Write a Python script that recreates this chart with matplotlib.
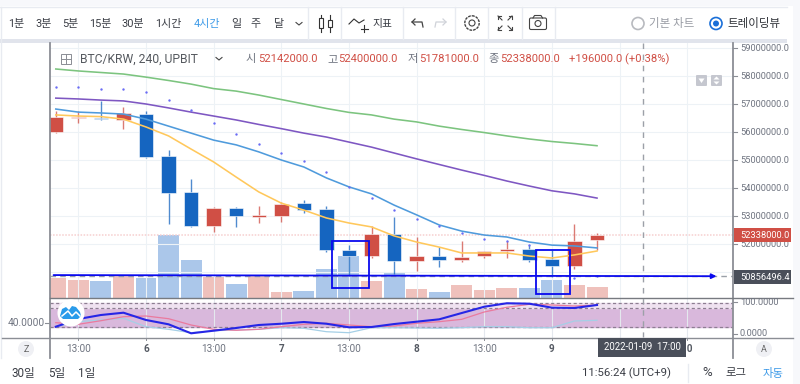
import numpy as np
import matplotlib
matplotlib.use("Agg")
import matplotlib.pyplot as plt
from matplotlib.patches import Rectangle, Circle, FancyBboxPatch, Polygon

plt.rcParams['font.family'] = ['Roboto', 'Noto Sans CJK KR', 'DejaVu Sans']

# ---------- data (prices in millions KRW) ----------
opens  = [56.00, 56.50, 56.50, 56.43, 56.64, 55.15, 53.86, 52.64, 53.29, 52.98, 53.01, 53.46, 53.25, 51.79, 51.57, 52.36, 51.39, 51.57, 51.43, 51.57, 51.75, 51.82, 51.46, 51.21, 52.142]
closes = [56.54, 56.52, 56.45, 56.68, 55.11, 53.83, 52.64, 53.29, 53.00, 53.04, 53.43, 53.23, 51.79, 51.57, 52.36, 51.39, 51.57, 51.43, 51.54, 51.75, 51.82, 51.43, 51.21, 52.11, 52.338]
highs  = [56.75, 56.75, 57.11, 56.89, 56.75, 55.36, 54.32, 53.32, 53.32, 53.36, 53.50, 53.57, 53.36, 51.96, 52.64, 52.96, 52.25, 51.89, 52.11, 51.75, 52.11, 51.96, 51.79, 52.71, 52.400]
lows   = [55.95, 56.32, 56.43, 56.11, 55.07, 52.71, 52.62, 52.43, 52.61, 52.75, 52.79, 53.11, 51.71, 50.86, 51.50, 50.93, 51.04, 51.18, 51.36, 51.50, 51.50, 51.36, 50.82, 51.11, 51.781]
volumes = [20.3, 18, 17, 22, 20.3, 63, 38, 21.3, 14.3, 22, 6, 7, 29.3, 42, 17, 25.3, 9, 6, 13.3, 8, 10, 10, 18, 13, 11]

ma_green  = [58.25, 58.18, 58.125, 58.07, 57.96, 57.84, 57.71, 57.55, 57.46, 57.32, 57.16, 57.0, 56.84, 56.70, 56.61, 56.46, 56.36, 56.21, 56.09, 55.98, 55.86, 55.75, 55.66, 55.59, 55.51]
ma_purple = [57.21, 57.18, 57.14, 57.11, 57.0, 56.86, 56.71, 56.57, 56.43, 56.27, 56.12, 55.96, 55.82, 55.64, 55.46, 55.25, 55.04, 54.84, 54.64, 54.45, 54.25, 54.07, 53.90, 53.79, 53.64]
ma_blue   = [56.82, 56.71, 56.68, 56.64, 56.46, 56.21, 55.96, 55.71, 55.54, 55.29, 55.0, 54.75, 54.36, 54.04, 53.79, 53.39, 53.04, 52.68, 52.46, 52.32, 52.25, 52.07, 51.96, 51.93, 51.86]
ma_yellow = [56.61, 56.57, 56.55, 56.46, 56.18, 55.86, 55.39, 54.93, 54.39, 53.86, 53.46, 53.21, 52.93, 52.75, 52.61, 52.29, 52.07, 51.89, 51.68, 51.68, 51.68, 51.57, 51.5, 51.61, 51.75]
sar = [57.61, 57.59, 57.54, 57.52, 57.43, 57.14, 56.79, 56.32, 55.93, 55.57, 55.26, 54.96, 54.57, 54.05, 53.64, 53.23, 52.89, 52.64, 52.39, 52.18, 52.11, 51.96, np.nan, 50.80, 50.86]

osc_k = [21.6, 46, 58.7, 66, 42.9, 29.2, 0.6, 8.9, 17.5, 27, 31, 36.5, 31, 19.7, 20.6, 30, 37.5, 45, 65, 85, 96, 94.6, 82, 81, 90.5]
osc_d = [34.3, 29.2, 40.6, 53.3, 55.6, 47, 27, 13.3, 10.2, 13.3, 21.6, 29.2, 32.4, 27, 21.6, 23.8, 32.4, 37.5, 45, 68.3, 83.2, 92.7, 90.5, 87.3, 90.5]
osc_r = [21.6, 37.5, 42.9, 48.3, 21.6, 13.3, 2.5, 8.9, 11.1, 13.3, 18.4, 16.5, 5.7, 2.5, 18.4, 18.4, 17.5, 16.5, 18.4, 21.6, 21.6, 18.4, 18.4, 39.7, 41.9]

price_ticks = list(range(52, 60))
time_ticks = [1, 4, 7, 10, 13, 16, 19, 22, 25, 28]
time_labels = ['13:00', '6', '13:00', '7', '13:00', '8', '13:00', '9', '13:00', '10']
intervals = ['1분', '3분', '5분', '15분', '30분', '1시간', '4시간', '일', '주', '달']
interval_x = [16.5, 43.5, 70.5, 100, 133, 168.5, 206.5, 236, 256, 278]
ranges = ['30일', '5일', '1일']
range_x = [23.5, 56.5, 86.5]
hline_start, hline_end = 50.90, 50.80

RED, BLUE = '#d04f45', '#1565c0'
RED_V, BLUE_V = '#efc1bc', '#abc7ea'
GRID = '#edf2f6'
AX = '#8b8e95'
TXT = '#6f7480'
W, H = 800, 384
FS = 6.7

fig = plt.figure(figsize=(8, 3.84), dpi=100, facecolor='white')

def axpx(x0, y0, x1, y1, **kw):
    return fig.add_axes([x0 / W, 1 - y1 / H, (x1 - x0) / W, (y1 - y0) / H], **kw)

xlim = (-0.257, 30.03)
n = np.arange(len(opens))

# --------- price pane ----------
ax = axpx(50, 43, 733, 298)
ax.set_xlim(*xlim)
ax.set_ylim(59 - 250 / 28, 59 + 5 / 28)
for s in ax.spines.values():
    s.set_visible(False)
ax.set_xticks(time_ticks)
ax.set_yticks(list(range(51, 60)))
ax.tick_params(length=0, labelleft=False, labelbottom=False)
ax.grid(True, color=GRID, lw=0.8)
ax.set_axisbelow(True)
ax.patch.set_alpha(0)

# volume on its own scale inside the price pane
axv = ax.twinx()
axv.set_ylim(0, 255)
axv.axis('off')
vcolors = [RED_V if c >= o else BLUE_V for o, c in zip(opens, closes)]
axv.bar(n, volumes, width=0.93, color=vcolors, zorder=1)
ax.set_zorder(axv.get_zorder() + 1)

ax.axhline(closes[-1], color='#f6cfcf', lw=1.1, ls=(0, (1, 1)), zorder=1)
ax.plot([xlim[0], xlim[1]], [50.856, 50.856], color='#9aa0a8', lw=1, ls=(0, (4, 3)), zorder=1)

for i in n:
    col = RED if closes[i] >= opens[i] else BLUE
    ax.vlines(i, lows[i], highs[i], color=col, lw=1, alpha=0.75, zorder=3)
    b, t = sorted((opens[i], closes[i]))
    ax.add_patch(Rectangle((i - 0.32, b), 0.64, max(t - b, 0.05), fc=col, ec='white', lw=0.4, zorder=4))

ax.plot(n, ma_green, color='#7cc47f', lw=1.15, zorder=5)
ax.plot(n, ma_purple, color='#7e57c2', lw=1.15, zorder=5)
ax.plot(n, ma_blue, color='#4f9bdc', lw=1.15, zorder=5)
ax.plot(n, ma_yellow, color='#ffc85c', lw=1.15, zorder=5)
ax.scatter(n, sar, s=3, color='#6a6cf5', zorder=5, linewidths=0)

ax.annotate('', xy=(29.3, hline_end + 0.05), xytext=(-0.1, hline_start - 0.01),
            arrowprops=dict(arrowstyle='-|>', color='#0a0aee', lw=1.3, mutation_scale=7, shrinkA=0, shrinkB=0), zorder=6)
ax.add_patch(Rectangle((12.24, 50.43), 1.65, 1.688, fc='none', ec='#0a0aee', lw=1.3, zorder=6))
ax.add_patch(Rectangle((21.29, 50.21), 1.51, 1.576, fc='none', ec='#0a0aee', lw=1.3, zorder=6))

# --------- oscillator pane ----------
axo = axpx(50, 298, 733, 337.5)
axo.set_xlim(*xlim)
axo.set_ylim((333.5 - 337.5) / 0.315, (333.5 - 298) / 0.315)
for s in axo.spines.values():
    s.set_visible(False)
axo.set_xticks(time_ticks)
axo.set_yticks([])
axo.tick_params(length=0, labelleft=False, labelbottom=False)
axo.grid(True, axis='x', color='#e4e8ee', lw=0.8)
axo.axhspan(20, 82, color='#d9b8dc', zorder=1)
axo.axhspan(82, 96, color='#efe2f0', zorder=1)
for lev in (20, 82, 96):
    axo.axhline(lev, color='#8d7e92', lw=0.9, ls=(0, (2.5, 2)), zorder=2)
axo.plot(n, osc_r, color='#a5cfe6', lw=0.9, zorder=3)
axo.plot(n, osc_d, color='#ea7a9e', lw=0.9, zorder=3)
axo.plot(n, osc_k, color='#2626e6', lw=1.5, zorder=4)

# --------- chrome overlay in screen coordinates ----------
ov = fig.add_axes([0, 0, 1, 1], zorder=20)
ov.set_xlim(0, W)
ov.set_ylim(H, 0)
ov.axis('off')
ov.patch.set_alpha(0)

ov.add_patch(Rectangle((0, 0), W, 6, fc='#f7f8fb', ec='none'))
ov.add_patch(Rectangle((0, 39), 787, 4, fc='#e1e4ec', ec='none'))
ov.plot([0, 787], [6.5, 6.5], color='#e8ebf1', lw=1)
ov.add_patch(Rectangle((793, 0), 7, 384, fc='#f7f8fb', ec='none'))
for x in (308, 341, 403, 455, 488, 522, 555):
    ov.plot([x, x], [7, 39], color='#e8ebf1', lw=1)
ov.plot([1, 1], [7, 358], color='#e8ebf1', lw=1)
ov.plot([49.5, 49.5], [43, 358], color=AX, lw=1.3)
ov.plot([733, 733], [43, 358], color=AX, lw=1.3)
ov.plot([50, 793], [298, 298], color='#777a80', lw=1)
ov.plot([2, 793], [337.5, 337.5], color=AX, lw=1)

for s, x in zip(intervals, interval_x):
    ov.text(x, 24, s, ha='center', va='center', fontsize=7.9, color='#3f9be8' if s == '4시간' else '#3a3d45')
ov.plot([296, 299, 302], [22.5, 25, 22.5], color='#444', lw=0.8)

# candle icon
ov.plot([321, 321], [15, 32], color='#333', lw=0.8)
ov.plot([330, 330], [15, 32], color='#333', lw=0.8)
ov.add_patch(Rectangle((319, 18), 4, 10, fc='white', ec='#333', lw=0.8, zorder=5))
ov.add_patch(Rectangle((328, 20), 4, 7, fc='white', ec='#333', lw=0.8, zorder=5))
# indicators icon
ov.plot([349, 354, 359, 364], [24, 19, 23, 20], color='#333', lw=0.8)
ov.plot([364, 364], [25, 32], color='#333', lw=0.8)
ov.plot([360.5, 367.5], [28.5, 28.5], color='#333', lw=0.8)
ov.text(382.5, 24, '지표', ha='center', va='center', fontsize=7.8, color='#3a3d45')
# undo / redo
ov.plot([412, 422, 423], [22, 22, 27], color='#444', lw=0.9)
ov.plot([415, 412, 415], [19, 22, 25], color='#444', lw=0.9)
ov.plot([446, 436, 435], [22, 22, 27], color='#d0d3d9', lw=0.9)
ov.plot([443, 446, 443], [19, 22, 25], color='#d0d3d9', lw=0.9)
# gear
ov.add_patch(Circle((472, 23), 3, fc='none', ec='#444', lw=0.8))
ov.add_patch(Circle((472, 23), 7.2, fc='none', ec='#444', lw=1.0, ls=(0, (2, 0.7))))
# fullscreen arrows
for sx, sy in ((-1, -1), (1, -1), (-1, 1), (1, 1)):
    cx, cy = 505 + sx * 3, 23 + sy * 3
    ov.plot([cx, cx + sx * 4], [cy, cy + sy * 4], color='#444', lw=0.8)
    ov.plot([cx + sx * 4, cx + sx * 4, cx + sx], [cy + sy, cy + sy * 4, cy + sy * 4], color='#444', lw=0.8)
# camera
ov.add_patch(FancyBboxPatch((529.5, 18), 17, 11.5, boxstyle='round,pad=0,rounding_size=1.5', fc='white', ec='#444', lw=0.8))
ov.add_patch(Circle((538, 23.5), 3, fc='white', ec='#444', lw=0.8))
ov.plot([533, 534.5, 541, 542.5], [18, 15.5, 15.5, 18], color='#444', lw=0.8)
# radios
ov.add_patch(Circle((638, 23.5), 6, fc='white', ec='#b8babf', lw=1.2))
ov.text(672, 23, '기본 차트', ha='center', va='center', fontsize=8.3, color='#9a9da5')
ov.add_patch(Circle((716, 23.5), 6, fc='white', ec='#1a6fd8', lw=1.2))
ov.add_patch(Circle((716, 23.5), 3, fc='#1a6fd8', ec='none'))
ov.text(754, 23, '트레이딩뷰', ha='center', va='center', fontsize=8.3, color='#2f3238')

# legend row
ov.add_patch(Rectangle((60.5, 54), 10, 10, fc='white', ec='#8a8d94', lw=0.7))
ov.plot([65.5, 65.5], [54, 64], color='#8a8d94', lw=0.7)
ov.plot([60.5, 70.5], [59, 59], color='#8a8d94', lw=0.7)
ov.text(80.5, 59, 'BTC/KRW, 240, UPBIT', ha='left', va='center', fontsize=8.7, color='#55595f')
ov.plot([216, 219, 222], [57.5, 60, 57.5], color='#444', lw=0.8)
ohlc_txt = [(246, '시', '#6f7480'), (258, '52142000.0', RED), (327, '고', '#6f7480'), (338.5, '52400000.0', RED),
            (408, '저', '#6f7480'), (419.5, '51781000.0', RED), (488, '종', '#6f7480'), (500, '52338000.0', RED),
            (569, '+196000.0 (+0.38%)', RED)]
for x, s, c in ohlc_txt:
    ov.text(x, 59, s, ha='left', va='center', fontsize=8.1, color=c)

# crosshair
ov.plot([643, 643], [43, 337], color='#9ca0a8', lw=1, ls=(0, (4, 4)))

# collapse buttons
ov.add_patch(FancyBboxPatch((696, 75), 11, 11, boxstyle='round,pad=0,rounding_size=1', fc='#c5c7cf', ec='none'))
ov.add_patch(Polygon([[698.5, 78.5], [704.5, 78.5], [701.5, 83]], fc='white', ec='none'))
ov.add_patch(FancyBboxPatch((711, 75), 11, 11, boxstyle='round,pad=0,rounding_size=1', fc='#c5c7cf', ec='none'))
ov.add_patch(Polygon([[713.5, 79.5], [719.5, 79.5], [716.5, 76.5]], fc='white', ec='none'))
ov.add_patch(Polygon([[713.5, 81.5], [719.5, 81.5], [716.5, 84.5]], fc='white', ec='none'))

# y tick labels
for p in price_ticks:
    y = 48 + (59 - p) * 28
    ov.plot([733, 737], [y, y], color=AX, lw=0.8)
    ov.text(740, y + 0.5, f'{p * 1000000:d}.0', ha='left', va='center', fontsize=FS, color=TXT)
ov.plot([733, 737], [302, 302], color=AX, lw=0.8)
ov.text(740, 302.5, '100.0000', ha='left', va='center', fontsize=FS, color=TXT)
ov.plot([733, 737], [333.5, 333.5], color=AX, lw=0.8)
ov.text(740, 333.5, '0.0000', ha='left', va='center', fontsize=FS, color=TXT)
ov.text(7.5, 322.7, '40.0000', ha='left', va='center', fontsize=7.3, color=TXT)
ov.plot([45, 49], [322.5, 322.5], color=AX, lw=0.8)

# price tags
ov.add_patch(Rectangle((733.5, 228), 57, 14, fc=RED, ec='none', zorder=6))
ov.text(740, 235.3, '52338000.0', ha='left', va='center', fontsize=FS, color='white', zorder=7)
ov.add_patch(Rectangle((733.5, 270), 57, 14, fc='#4a4f5a', ec='none', zorder=6))
ov.text(740, 277, '50856496.4', ha='left', va='center', fontsize=FS, color='white', zorder=7)

# x tick labels
for t, s in zip(time_ticks, time_labels):
    x = 50 + (t - xlim[0]) / (xlim[1] - xlim[0]) * 683
    ov.plot([x, x], [337.5, 340], color=AX, lw=0.7)
    if t != 25:
        bold = ':' not in s
        ov.text(x, 349.5, s, ha='center', va='center', fontsize=7.2, color='#555a63' if bold else TXT,
                fontweight='bold' if bold else 'normal')
ov.add_patch(Rectangle((598, 337.5), 88, 19, fc='#4a4f5a', ec='none', zorder=6))
ov.text(642, 347, '2022-01-09  17:00', ha='center', va='center', fontsize=6.9, color='white', zorder=7)

ov.add_patch(Circle((26, 349), 8, fc='#eff0f4', ec='none'))
ov.text(26, 349, 'Z', ha='center', va='center', fontsize=6.5, color='#666')
ov.add_patch(Circle((764, 349), 8, fc='#eff0f4', ec='none'))
ov.text(764, 349, 'A', ha='center', va='center', fontsize=6.5, color='#666')

# logo
ov.add_patch(Circle((71, 313), 13.5, fc='white', ec='none', zorder=8))
ov.add_patch(Polygon([[60, 316], [62, 309], [66, 307], [69, 310], [72, 306], [76, 307], [80, 312], [81, 316], [78, 319], [63, 319]],
                     fc='#2a9bea', ec='none', zorder=9))
ov.plot([62, 68, 72, 76, 80], [316, 311, 316, 312, 316], color='white', lw=1.1, zorder=10)

# bottom bar
for s, x in zip(ranges, range_x):
    ov.text(x, 373, s, ha='center', va='center', fontsize=8.4, color='#3a3d45')
ov.text(627, 373, '11:56:24 (UTC+9)', ha='center', va='center', fontsize=8.2, color='#3a3d45')
ov.plot([687.5, 687.5], [364, 382], color='#e8ebf1', lw=1)
ov.text(707, 373, '%', ha='center', va='center', fontsize=9.5, color='#3a3d45')
ov.text(736, 373, '로그', ha='center', va='center', fontsize=8.2, color='#3a3d45')
ov.text(773, 373, '자동', ha='center', va='center', fontsize=8.2, color='#3f9be8')

fig.savefig('out.png', dpi=100, facecolor='white')
